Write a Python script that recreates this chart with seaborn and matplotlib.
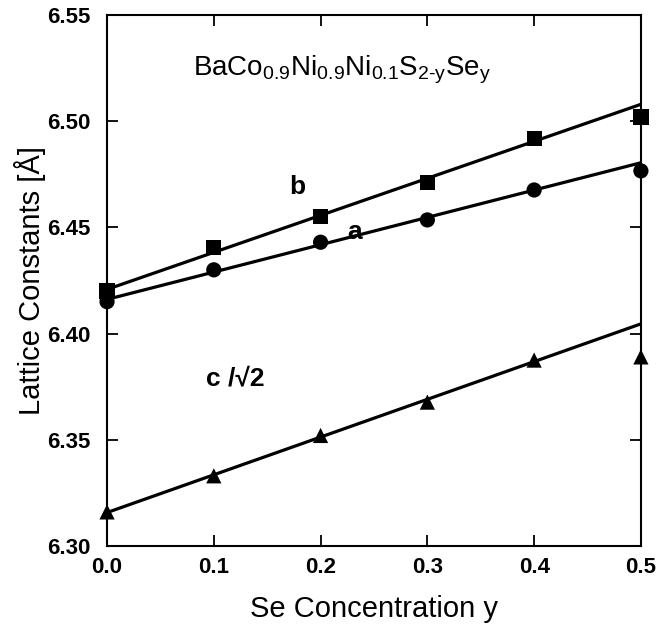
import pandas as pd
import numpy as np
import matplotlib
matplotlib.use("Agg")
import matplotlib.pyplot as plt
import seaborn as sns

# data
se_conc = [0.0, 0.1, 0.2, 0.3, 0.4, 0.5]
a_const = [6.415, 6.430, 6.443, 6.4535, 6.4676, 6.4766]
b_const = [6.420, 6.4404, 6.455, 6.4711, 6.4918, 6.502]
c_const = [6.316, 6.333, 6.352, 6.3677, 6.3875, 6.389]
x_ticks = [0.0, 0.1, 0.2, 0.3, 0.4, 0.5]
y_ticks = [6.30, 6.35, 6.40, 6.45, 6.50, 6.55]

df = pd.DataFrame({
    "y": se_conc * 3,
    "lattice": a_const + b_const + c_const,
    "param": ["a"] * 6 + ["b"] * 6 + ["c"] * 6,
})

sns.set_style("ticks")
plt.rcParams["font.family"] = ["Liberation Sans", "DejaVu Sans"]
plt.rcParams["mathtext.fontset"] = "custom"
plt.rcParams["mathtext.rm"] = "Liberation Sans"
plt.rcParams["mathtext.it"] = "Liberation Sans"
plt.rcParams["mathtext.default"] = "regular"
plt.rcParams["text.color"] = "black"
plt.rcParams["axes.labelcolor"] = "black"
plt.rcParams["xtick.color"] = "black"
plt.rcParams["ytick.color"] = "black"
plt.rcParams["axes.edgecolor"] = "black"

fig = plt.figure(figsize=(6.69, 6.26), dpi=100)
ax = fig.add_axes([0.16, 0.128, 0.798, 0.848])
ax.set_xlim(0, 0.5)
ax.set_ylim(6.30, 6.55)

#fit lines (last point left out of the fit)
for p in ["a", "b", "c"]:
    sub = df[(df["param"] == p) & (df["y"] < 0.45)]
    sns.regplot(x="y", y="lattice", data=sub, ax=ax, scatter=False, ci=None,
                truncate=False, color="black", line_kws={"lw": 2.3})

sns.scatterplot(x="y", y="lattice", data=df, style="param",
                markers={"a": "o", "b": "s", "c": "^"}, color="black",
                s=120, edgecolor="black", linewidth=0, legend=False,
                ax=ax, clip_on=False, zorder=5)

ax.set_xlim(0, 0.5)
ax.set_ylim(6.30, 6.55)
ax.set_xticks(x_ticks)
ax.set_yticks(y_ticks)
ax.set_xticklabels([f"{v:.1f}" for v in x_ticks], fontsize=16, fontweight="bold")
ax.set_yticklabels([f"{v:.2f}" for v in y_ticks], fontsize=16, fontweight="bold")
ax.tick_params(direction="in", length=8, width=1.3, top=True, right=True)
ax.tick_params(axis="x", pad=8)
ax.tick_params(axis="y", pad=12)
for s in ax.spines.values():
    s.set_linewidth(1.5)
    s.set_visible(True)

ax.set_xlabel("Se Concentration y", fontsize=21, labelpad=12)
ax.set_ylabel("Lattice Constants [Å]", fontsize=21)
ax.yaxis.set_label_coords(-0.115, 0.5)

ax.text(0.44, 0.896, r"BaCo$_{0.9}$Ni$_{0.9}$Ni$_{0.1}$S$_{2\text{-}y}$Se$_{y}$",
        transform=ax.transAxes, ha="center", va="center", fontsize=20)
ax.text(0.178, 6.469, "b", ha="center", va="center", fontsize=19, fontweight="bold")
ax.text(0.232, 6.4477, "a", ha="center", va="center", fontsize=19, fontweight="bold")
ax.text(0.12, 6.379, "c /√2", ha="center", va="center", fontsize=19, fontweight="bold")

fig.savefig("out.png", dpi=100)
